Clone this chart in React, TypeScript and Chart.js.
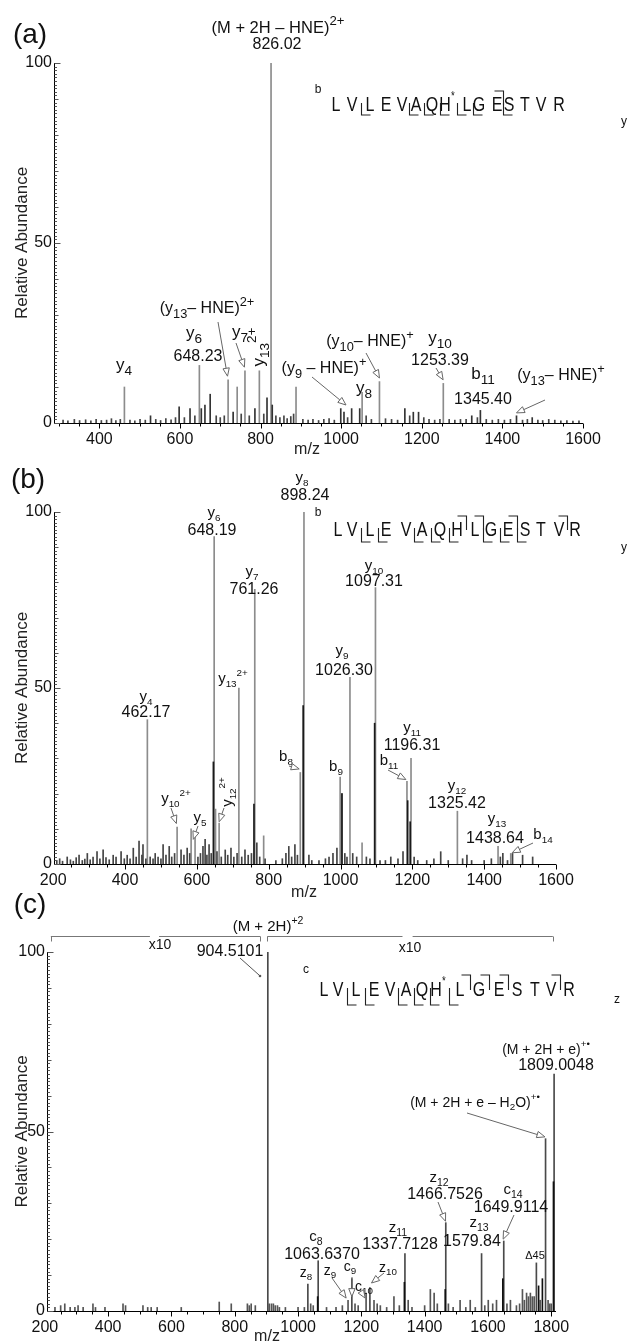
import React, { useEffect, useRef } from "react";
import { Chart, registerables } from "chart.js";
Chart.register(...registerables);

const W = 628;
const H = 1343;
const FONT = "'Liberation Sans', Arial, Helvetica, sans-serif";

// ---------------- DATA: panel (a) ----------------
const A_TICKS = [400, 600, 800, 1000, 1200, 1400, 1600];
const A_PEAKS: [number, number][] = [
  [462.2, 10], [648.2, 16], [719.5, 12], [742, 10], [761.3, 14.5], [797, 14.5],
  [826.02, 100], [888, 10], [1052, 8.5], [1095, 11.5], [1253.4, 11],
];
const A_SMALL: [number, number][] = [
  [527, 2], [598, 4.5], [625, 4], [653, 4], [662, 5], [675, 8], [732, 3], [786, 4], [816, 7],
  [829, 5], [999, 4], [1007, 3], [1026, 4], [1046, 4], [1158, 4], [1179, 3], [1192, 3],
  [1324, 2], [1345.4, 3.5], [1435, 2], [1474, 1.5],
];
const A_NOISE: [number, number][] = [
  [310, 0.8], [322, 0.6], [338, 1], [351, 0.7], [366, 0.9], [379, 0.6], [392, 1], [405, 0.7],
  [418, 0.8], [430, 1.2], [441, 0.7], [452, 1], [476, 0.8], [488, 0.6], [501, 1], [514, 0.8],
  [540, 1], [552, 0.7], [565, 1.2], [578, 0.9], [589, 1.5], [611, 1.5], [637, 2], [690, 2],
  [700, 1.5], [710, 2], [752, 2.5], [772, 2], [808, 2.5], [838, 2], [848, 1.5], [858, 2],
  [866, 1.2], [875, 1.8], [882, 2.5], [905, 1], [918, 0.8], [930, 1], [944, 0.7], [957, 1],
  [970, 1.2], [983, 0.8], [1016, 1.5], [1062, 2], [1075, 1], [1110, 1.2], [1125, 1], [1140, 0.8],
  [1170, 2], [1205, 1.5], [1218, 1], [1232, 0.8], [1245, 1], [1268, 1], [1282, 0.8], [1296, 1],
  [1310, 1], [1338, 1.5], [1360, 1], [1375, 0.8], [1390, 1], [1405, 0.8], [1420, 1], [1450, 0.8],
  [1462, 1], [1488, 0.8], [1500, 0.7], [1515, 1], [1530, 0.8], [1545, 0.6], [1560, 0.7],
  [1575, 0.5], [1590, 0.6],
];

// ---------------- DATA: panel (b) ----------------
const B_TICKS = [200, 400, 600, 800, 1000, 1200, 1400, 1600];
const B_PEAKS: [number, number][] = [
  [462.17, 41], [545, 10.5], [584, 10], [595, 8], [648.19, 93], [652, 15.6], [662, 11.6],
  [717, 50], [761.26, 78], [786, 8], [888, 26], [898.24, 100], [999, 24.7], [1004, 20],
  [1026.3, 53], [1060, 6], [1097.31, 78.5], [1185, 23.5], [1196.31, 30], [1325.42, 15],
  [1438.64, 5], [1474, 3],
];
const B_DARK: [number, number][] = [
  [646, 29], [759, 17], [896, 45], [1095, 40], [1004, 20], [1187, 18], [1194, 12],
];
const B_NOISE: [number, number][] = [
  [210, 1], [218, 1.5], [226, 0.8], [239, 2], [248, 1.2], [256, 0.8], [264, 1.8], [272, 2.5],
  [281, 1], [288, 1.4], [295, 3], [303, 1.2], [311, 2], [322, 3.5], [330, 1.5], [339, 4],
  [347, 1.8], [356, 1.2], [367, 2.5], [375, 2], [389, 3.5], [398, 1.5], [406, 2.5], [414, 1.5],
  [423, 4.5], [431, 2], [439, 6.5], [447, 2.5], [450, 5.5], [458, 1.5], [470, 2], [478, 1.5],
  [484, 3], [492, 2], [500, 1.5], [506, 5.5], [514, 2.5], [523, 5], [530, 2], [538, 3],
  [556, 4], [564, 2.5], [573, 4.5], [580, 3], [603, 2], [610, 3], [617, 5], [623, 7],
  [628, 2.5], [634, 5.5], [640, 3], [656, 3.5], [668, 2], [679, 4], [686, 2.5], [695, 4.5],
  [703, 2], [712, 3], [725, 2], [734, 4], [743, 2.5], [752, 3], [767, 6], [775, 2], [790, 1.5],
  [820, 1], [838, 1.5], [848, 3], [856, 5], [864, 2], [873, 5.5], [880, 2.5], [912, 2.5],
  [920, 1], [940, 1], [958, 1.5], [968, 2], [979, 3], [990, 4.5], [1012, 3], [1018, 2],
  [1034, 3], [1045, 2], [1072, 2], [1082, 1.5], [1110, 1], [1125, 1], [1140, 2], [1160, 1.5],
  [1174, 3.5], [1205, 2], [1215, 1], [1240, 1], [1260, 1.5], [1279, 3.5], [1300, 1],
  [1340, 1.5], [1352, 2.5], [1365, 1], [1400, 1], [1420, 1.5], [1445, 2], [1452, 3],
  [1465, 1], [1479, 3], [1507, 2.5], [1535, 2],
];

// ---------------- DATA: panel (c) ----------------
const C_TICKS = [200, 400, 600, 800, 1000, 1200, 1400, 1600, 1800];
const C_PEAKS: [number, number][] = [
  [904.51, 100], [1031, 7.5], [1063.64, 14], [1170, 9], [1227, 6.5], [1337.71, 16],
  [1466.75, 24.6], [1579.84, 16], [1649.91, 19.5], [1753, 13.4], [1782, 48], [1809.0, 66],
];
const C_DARK: [number, number][] = [
  [1807, 36], [1647, 9], [1465, 6], [1336, 8], [1062, 4], [1772, 9], [1760, 7],
];
const C_NOISE: [number, number][] = [
  [232, 1], [250, 1.5], [263, 2], [280, 1], [295, 1], [305, 1.5], [321, 1], [352, 2],
  [360, 1], [390, 1], [447, 2], [455, 1.5], [510, 1.5], [525, 1], [536, 1], [555, 1],
  [631, 1], [751, 2.5], [789, 2], [840, 2], [846, 1.5], [852, 2], [865, 1.5], [909, 2],
  [916, 2], [922, 2], [928, 1.5], [935, 1.5], [941, 1], [960, 1], [1000, 1], [1020, 1],
  [1040, 2], [1048, 1.5], [1090, 1], [1120, 1], [1140, 1.5], [1158, 3], [1180, 2], [1190, 1.5],
  [1215, 5], [1240, 3], [1250, 2], [1260, 1.5], [1280, 1], [1303, 4], [1320, 1.5], [1348, 3],
  [1360, 1], [1400, 1.5], [1418, 6], [1430, 5], [1440, 2], [1475, 2], [1490, 1], [1512, 3],
  [1530, 1], [1544, 3], [1560, 1], [1590, 1.5], [1601, 3], [1615, 2], [1627, 3], [1660, 2],
  [1671, 3], [1690, 1.5], [1700, 2], [1709, 6], [1715, 3], [1722, 5], [1728, 4], [1734, 5],
  [1740, 4], [1746, 4], [1765, 3], [1790, 3], [1795, 2], [1800, 2],
];
const C_BRACKETS: [number, number][] = [[219, 532], [561, 881], [903, 1330], [1362, 1805]];
const C_BRACKET_TICKS = [219, 881, 903, 1805];

// ---------------- ANNOTATION LAYOUT ----------------
type Lbl = { t: string; x: number; y: number; size?: number; sub?: number; rot?: boolean; sx?: number };
type Arr = { x: number; y: number; mz: number; v: number };
type Seq = {
  xs: number[]; y: number; letters: string[]; bot: number[]; top: number[];
  pre: Lbl; post: Lbl; drop: number; rise: number;
};

const LETTERS_STAR = ["L", "V", "L", "E", "V", "A", "Q", "H^*", "L", "G", "E", "S", "T", "V", "R"];
const LETTERS_PLAIN = ["L", "V", "L", "E", "V", "A", "Q", "H", "L", "G", "E", "S", "T", "V", "R"];

const A_LABELS: Lbl[] = [
  { t: "(a)", x: 30, y: 35, size: 28 },
  { t: "(M + 2H – HNE)^{2+}", x: 278, y: 28, size: 16.5 },
  { t: "826.02", x: 277, y: 45, size: 16 },
  { t: "y_4", x: 124, y: 365, size: 17 },
  { t: "y_6", x: 194, y: 333, size: 17 },
  { t: "648.23", x: 198, y: 357, size: 16 },
  { t: "(y_{13}– HNE)^{2+}", x: 207, y: 309, size: 16 },
  { t: "y_7", x: 240, y: 332, size: 17 },
  { t: "y_{13}^{2+}", x: 259, y: 347, size: 17, rot: true },
  { t: "(y_9 – HNE)^+", x: 324, y: 369, size: 16 },
  { t: "y_8", x: 364, y: 388, size: 17 },
  { t: "(y_{10}– HNE)^+", x: 370, y: 342, size: 16 },
  { t: "y_{10}", x: 440, y: 338, size: 17 },
  { t: "1253.39", x: 440, y: 361, size: 16 },
  { t: "b_{11}", x: 483, y: 374, size: 17 },
  { t: "1345.40", x: 483, y: 400, size: 16 },
  { t: "(y_{13}– HNE)^+", x: 561, y: 376, size: 16 },
];
const A_ARROWS: Arr[] = [
  { x: 218, y: 322, mz: 718, v: 13 },
  { x: 236, y: 343, mz: 760, v: 15.5 },
  { x: 312, y: 377, mz: 1012, v: 5 },
  { x: 366, y: 353, mz: 1095, v: 12.5 },
  { x: 436, y: 368, mz: 1253, v: 12 },
  { x: 545, y: 400, mz: 1435, v: 2.8 },
];
const A_SEQ: Seq = {
  xs: [336, 352, 370, 386, 402, 416, 432, 447, 467, 479, 497, 509, 525, 541, 559],
  y: 105, letters: LETTERS_STAR, bot: [1, 4, 5, 6, 7, 8, 10], top: [10],
  pre: { t: "b", x: 318, y: 90, size: 12 }, post: { t: "y", x: 624, y: 122, size: 12 },
  drop: 10, rise: 14,
};

const B_LABELS: Lbl[] = [
  { t: "(b)", x: 28, y: 480, size: 28 },
  { t: "y_8", x: 302, y: 478, size: 15 },
  { t: "898.24", x: 305, y: 496, size: 16 },
  { t: "y_6", x: 214, y: 513, size: 15 },
  { t: "648.19", x: 212, y: 531, size: 16 },
  { t: "y_7", x: 252, y: 572, size: 15 },
  { t: "761.26", x: 254, y: 590, size: 16 },
  { t: "y_{10}", x: 374, y: 566, size: 15 },
  { t: "1097.31", x: 374, y: 582, size: 16 },
  { t: "y_9", x: 342, y: 651, size: 15 },
  { t: "1026.30", x: 344, y: 671, size: 16 },
  { t: "y_{13}^{2+}", x: 233, y: 679, size: 15 },
  { t: "y_4", x: 146, y: 697, size: 15 },
  { t: "462.17", x: 146, y: 713, size: 16 },
  { t: "y_{11}", x: 412, y: 728, size: 15 },
  { t: "1196.31", x: 412, y: 746, size: 16 },
  { t: "b_{11}", x: 389, y: 761, size: 15 },
  { t: "b_9", x: 336, y: 767, size: 15 },
  { t: "b_8", x: 286, y: 757, size: 15 },
  { t: "y_{12}", x: 457, y: 786, size: 15 },
  { t: "1325.42", x: 457, y: 804, size: 16 },
  { t: "y_{13}", x: 497, y: 819, size: 15 },
  { t: "1438.64", x: 495, y: 839, size: 16 },
  { t: "b_{14}", x: 543, y: 835, size: 15 },
  { t: "y_{10}^{2+}", x: 176, y: 799, size: 15 },
  { t: "y_5", x: 200, y: 818, size: 15 },
  { t: "y_{12}^{2+}", x: 228, y: 792, size: 15, rot: true },
];
const B_ARROWS: Arr[] = [
  { x: 388, y: 770, mz: 1182, v: 24 },
  { x: 289, y: 766, mz: 885, v: 27 },
  { x: 533, y: 843, mz: 1478, v: 3.2 },
  { x: 171, y: 808, mz: 543, v: 11.5 },
  { x: 198, y: 826, mz: 590, v: 7 },
  { x: 224, y: 808, mz: 662, v: 12 },
];
const B_SEQ: Seq = {
  xs: [338, 352, 370, 386, 406, 422, 440, 457, 475, 491, 508, 525, 541, 559, 575],
  y: 530, letters: LETTERS_PLAIN, bot: [1, 2, 4, 5, 6, 8, 9, 10], top: [7, 8, 10, 13],
  pre: { t: "b", x: 318, y: 513, size: 12 }, post: { t: "y", x: 624, y: 548, size: 12 },
  drop: 12, rise: 14,
};

const C_LABELS: Lbl[] = [
  { t: "(c)", x: 30, y: 905, size: 28 },
  { t: "(M + 2H)^{+2}", x: 268, y: 927, size: 15 },
  { t: "x10", x: 160, y: 945, size: 14 },
  { t: "x10", x: 410, y: 948, size: 14 },
  { t: "904.5101", x: 230, y: 952, size: 16 },
  { t: "(M + 2H + e)^{+•}", x: 546, y: 1050, size: 14 },
  { t: "1809.0048", x: 556, y: 1066, size: 16 },
  { t: "(M + 2H + e – H_2O)^{+•}", x: 475, y: 1103, size: 14 },
  { t: "z_{12}", x: 439, y: 1178, size: 15 },
  { t: "1466.7526", x: 445, y: 1195, size: 16 },
  { t: "c_{14}", x: 513, y: 1190, size: 15 },
  { t: "1649.9114", x: 511, y: 1208, size: 16 },
  { t: "z_{13}", x: 479, y: 1223, size: 15 },
  { t: "1579.84", x: 472, y: 1242, size: 16 },
  { t: "z_{11}", x: 398, y: 1228, size: 15 },
  { t: "1337.7128", x: 400, y: 1245, size: 16 },
  { t: "c_8", x: 316, y: 1237, size: 15 },
  { t: "1063.6370", x: 322, y: 1255, size: 16 },
  { t: "z_8", x: 306, y: 1273, size: 14 },
  { t: "z_9", x: 330, y: 1271, size: 14 },
  { t: "c_9", x: 350, y: 1267, size: 14 },
  { t: "c_{10}", x: 364, y: 1287, size: 14 },
  { t: "z_{10}", x: 388, y: 1268, size: 14 },
  { t: "Δ45", x: 535, y: 1256, size: 11 },
];
const C_ARROWS: Arr[] = [
  { x: 467, y: 1113, mz: 1780, v: 48.5 },
  { x: 438, y: 1202, mz: 1466, v: 25 },
  { x: 514, y: 1215, mz: 1648, v: 20 },
  { x: 332, y: 1278, mz: 1152, v: 3.6 },
  { x: 352, y: 1277, mz: 1170, v: 4 },
  { x: 360, y: 1290, mz: 1212, v: 3.6 },
  { x: 384, y: 1273, mz: 1232, v: 7.8 },
];
const C_SEQ: Seq = {
  xs: [324, 338, 356, 374, 390, 406, 422, 438, 460, 479, 499, 517, 535, 551, 569],
  y: 990, letters: LETTERS_STAR, bot: [1, 2, 4, 5, 6, 7], top: [8, 9, 10, 13],
  pre: { t: "c", x: 306, y: 970, size: 12 }, post: { t: "z", x: 617, y: 1000, size: 12 },
  drop: 15, rise: 15,
};

// ---------------- helpers ----------------
type Seg = { t: string; k: "n" | "b" | "p" };
function parseRich(s: string): Seg[] {
  const out: Seg[] = [];
  let buf = "";
  let i = 0;
  while (i < s.length) {
    const c = s[i];
    if (c === "_" || c === "^") {
      if (buf) { out.push({ t: buf, k: "n" }); buf = ""; }
      i++;
      let g = "";
      if (s[i] === "{") {
        i++;
        while (i < s.length && s[i] !== "}") { g += s[i]; i++; }
        i++;
      } else { g = s[i]; i++; }
      out.push({ t: g, k: c === "_" ? "b" : "p" });
    } else { buf += c; i++; }
  }
  if (buf) out.push({ t: buf, k: "n" });
  return out;
}

function drawRich(ctx: CanvasRenderingContext2D, l: Lbl, defSub: number, color = "#111") {
  const size = l.size ?? 16;
  const sc = l.sub ?? defSub;
  const segs = parseRich(l.t);
  const fontFor = (k: string) => `${k === "n" ? size : (size * sc).toFixed(1)}px ${FONT}`;
  let w = 0;
  segs.forEach((s) => { ctx.font = fontFor(s.k); w += ctx.measureText(s.t).width; });
  ctx.save();
  ctx.translate(l.x, l.y);
  if (l.rot) ctx.rotate(-Math.PI / 2);
  if (l.sx) ctx.scale(l.sx, 1);
  ctx.textBaseline = "middle";
  ctx.textAlign = "left";
  ctx.fillStyle = color;
  let x = -w / 2;
  segs.forEach((s) => {
    ctx.font = fontFor(s.k);
    const dy = s.k === "b" ? size * 0.34 : s.k === "p" ? -size * 0.4 : 0;
    ctx.fillText(s.t, x, dy);
    x += ctx.measureText(s.t).width;
  });
  ctx.restore();
}

function drawArrow(ctx: CanvasRenderingContext2D, x1: number, y1: number, x2: number, y2: number) {
  const ang = Math.atan2(y2 - y1, x2 - x1);
  const L = 8, Wd = 3.2;
  const bx = x2 - L * Math.cos(ang), by = y2 - L * Math.sin(ang);
  ctx.save();
  ctx.strokeStyle = "#666";
  ctx.lineWidth = 1;
  ctx.beginPath(); ctx.moveTo(x1, y1); ctx.lineTo(bx, by); ctx.stroke();
  ctx.beginPath();
  ctx.moveTo(x2, y2);
  ctx.lineTo(bx + Wd * Math.sin(ang), by - Wd * Math.cos(ang));
  ctx.lineTo(bx - Wd * Math.sin(ang), by + Wd * Math.cos(ang));
  ctx.closePath();
  ctx.fillStyle = "#fff"; ctx.fill(); ctx.stroke();
  ctx.restore();
}

function drawSeq(ctx: CanvasRenderingContext2D, s: Seq) {
  s.letters.forEach((L, i) => drawRich(ctx, { t: L, x: s.xs[i], y: s.y, size: 20, sx: 0.8 }, 0.6));
  drawRich(ctx, s.pre, 0.7);
  drawRich(ctx, s.post, 0.7);
  ctx.save();
  ctx.strokeStyle = "#222";
  ctx.lineWidth = 1.1;
  s.bot.forEach((i) => {
    const xm = Math.round((s.xs[i] + s.xs[i + 1]) / 2) + 0.5;
    ctx.beginPath();
    ctx.moveTo(xm, s.y - 2);
    ctx.lineTo(xm, s.y + s.drop);
    ctx.lineTo(xm + 9, s.y + s.drop);
    ctx.stroke();
  });
  s.top.forEach((i) => {
    const xm = Math.round((s.xs[i] + s.xs[i + 1]) / 2) + 0.5;
    ctx.beginPath();
    ctx.moveTo(xm - 9, s.y - s.rise);
    ctx.lineTo(xm, s.y - s.rise);
    ctx.lineTo(xm, s.y);
    ctx.stroke();
  });
  ctx.restore();
}

// ---------------- panel specs ----------------
type Panel = {
  left: number; right: number; top: number; bottom: number; min: number; max: number;
  ticks: number[]; peaks: [number, number][]; dark: [number, number][]; noise: [number, number][];
  peakColor: string; darkColor: string; noiseColor: string;
  labels: Lbl[]; arrows: Arr[]; seq: Seq; sub: number; xTitle: [number, number]; panel: "a" | "b" | "c";
};

const PANELS: Panel[] = [
  {
    panel: "a", left: 55, right: 583, top: 63, bottom: 423, min: 290, max: 1600, ticks: A_TICKS,
    peaks: A_PEAKS, dark: A_SMALL, noise: A_NOISE,
    peakColor: "#8c8c8c", darkColor: "#333", noiseColor: "#444",
    labels: A_LABELS, arrows: A_ARROWS, seq: A_SEQ, sub: 0.8, xTitle: [307, 450],
  },
  {
    panel: "b", left: 55, right: 556, top: 512, bottom: 864, min: 205, max: 1600, ticks: B_TICKS,
    peaks: B_PEAKS, dark: B_DARK, noise: B_NOISE,
    peakColor: "#8c8c8c", darkColor: "#1a1a1a", noiseColor: "#444",
    labels: B_LABELS, arrows: B_ARROWS, seq: B_SEQ, sub: 0.66, xTitle: [304, 893],
  },
  {
    panel: "c", left: 48, right: 556, top: 952, bottom: 1311, min: 210, max: 1815, ticks: C_TICKS,
    peaks: C_PEAKS, dark: C_DARK, noise: C_NOISE,
    peakColor: "#4a4a4a", darkColor: "#111", noiseColor: "#555",
    labels: C_LABELS, arrows: C_ARROWS, seq: C_SEQ, sub: 0.7, xTitle: [267, 1337],
  },
];

function ds(pairs: [number, number][], color: string, order: number) {
  return {
    data: pairs.map(([x, y]) => ({ x, y })),
    backgroundColor: color,
    borderWidth: 0,
    barThickness: 1,
    grouped: false,
    order,
  };
}

function makeConfig(p: Panel): any {
  const annot = {
    id: "annot-" + p.panel,
    afterDraw(chart: any) {
      const ctx: CanvasRenderingContext2D = chart.ctx;
      const xs = chart.scales.x;
      const ys = chart.scales.y;
      const { left, right, top, bottom } = chart.chartArea;
      ctx.save();
      ctx.strokeStyle = "#000";
      ctx.lineWidth = 1;
      const lx = Math.round(left) - 0.5;
      const by = Math.round(bottom) + 0.5;
      ctx.beginPath();
      ctx.moveTo(lx, top);
      ctx.lineTo(lx, by);
      ctx.lineTo(right, by);
      ctx.stroke();
      for (let v = Math.ceil(p.min / 50) * 50; v <= p.max; v += 50) {
        const px = Math.round(xs.getPixelForValue(v)) + 0.5;
        ctx.beginPath();
        ctx.moveTo(px, by);
        ctx.lineTo(px, by + (v % 200 === 0 ? 5 : 3));
        ctx.stroke();
      }
      ctx.strokeStyle = "#555";
      for (let v = 0; v <= 100; v += 1) {
        const py = Math.round(ys.getPixelForValue(v)) + 0.5;
        const len = v % 50 === 0 ? 6 : v % 10 === 0 ? 4 : 2.5;
        ctx.beginPath();
        ctx.moveTo(lx, py);
        ctx.lineTo(lx + len, py);
        ctx.stroke();
      }
      ctx.restore();

      drawRich(ctx, { t: "Relative Abundance", x: 22, y: (top + bottom) / 2, size: 17, rot: true }, 0.7, "#222");
      drawRich(ctx, { t: "m/z", x: p.xTitle[0], y: p.xTitle[1], size: 16 }, 0.7, "#222");

      p.labels.forEach((l) => drawRich(ctx, l, p.sub));
      p.arrows.forEach((a) => drawArrow(ctx, a.x, a.y, xs.getPixelForValue(a.mz), ys.getPixelForValue(a.v)));
      drawSeq(ctx, p.seq);

      if (p.panel === "c") {
        ctx.save();
        ctx.strokeStyle = "#777";
        ctx.lineWidth = 1;
        const yb = 936.5;
        C_BRACKETS.forEach(([a, b]) => {
          ctx.beginPath();
          ctx.moveTo(xs.getPixelForValue(a), yb);
          ctx.lineTo(xs.getPixelForValue(b), yb);
          ctx.stroke();
        });
        C_BRACKET_TICKS.forEach((m) => {
          const px = Math.round(xs.getPixelForValue(m)) + 0.5;
          ctx.beginPath();
          ctx.moveTo(px, yb);
          ctx.lineTo(px, yb + 5);
          ctx.stroke();
        });
        ctx.strokeStyle = "#555";
        ctx.beginPath();
        ctx.moveTo(240, 958);
        ctx.lineTo(259, 975);
        ctx.stroke();
        ctx.beginPath();
        ctx.arc(260, 976, 1.3, 0, Math.PI * 2);
        ctx.fillStyle = "#555";
        ctx.fill();
        ctx.restore();
      }
    },
  };

  return {
    type: "bar",
    data: {
      datasets: [
        ds(p.peaks, p.peakColor, 3),
        ds(p.noise, p.noiseColor, 2),
        ds(p.dark, p.darkColor, 1),
      ],
    },
    options: {
      animation: false,
      responsive: false,
      maintainAspectRatio: false,
      events: [],
      layout: { padding: { left: 0, top: p.top, right: W - p.right, bottom: H - p.bottom - 40 } },
      plugins: { legend: { display: false }, tooltip: { enabled: false }, title: { display: false } },
      scales: {
        x: {
          type: "linear",
          min: p.min,
          max: p.max,
          offset: false,
          grid: { display: false, drawTicks: false },
          border: { display: false },
          ticks: {
            color: "#111",
            font: { family: FONT, size: 16 },
            padding: 7,
            maxRotation: 0,
            autoSkip: false,
            callback: (v: any) => String(v),
          },
          afterBuildTicks: (s: any) => { s.ticks = p.ticks.map((v) => ({ value: v })); },
          afterFit: (s: any) => { s.height = 40; },
        },
        y: {
          min: 0,
          max: 100,
          grid: { display: false, drawTicks: false },
          border: { display: false },
          ticks: {
            color: "#111",
            font: { family: FONT, size: 16 },
            padding: 3,
            callback: (v: any) => String(v),
          },
          afterBuildTicks: (s: any) => { s.ticks = [0, 50, 100].map((v) => ({ value: v })); },
          afterFit: (s: any) => { s.width = p.left; },
        },
      },
    },
    plugins: [annot],
  };
}

function PanelChart({ p }: { p: Panel }) {
  const ref = useRef<HTMLCanvasElement>(null);
  useEffect(() => {
    const chart = new Chart(ref.current as HTMLCanvasElement, makeConfig(p));
    return () => chart.destroy();
  }, [p]);
  return (
    <canvas
      ref={ref}
      width={W}
      height={H}
      style={{ position: "absolute", left: 0, top: 0, width: W, height: H }}
    />
  );
}

export default function App() {
  return (
    <div style={{ position: "fixed", left: 0, top: 0, width: W, height: H, background: "#fff", overflow: "hidden" }}>
      {PANELS.map((p) => (
        <PanelChart key={p.panel} p={p} />
      ))}
    </div>
  );
}
